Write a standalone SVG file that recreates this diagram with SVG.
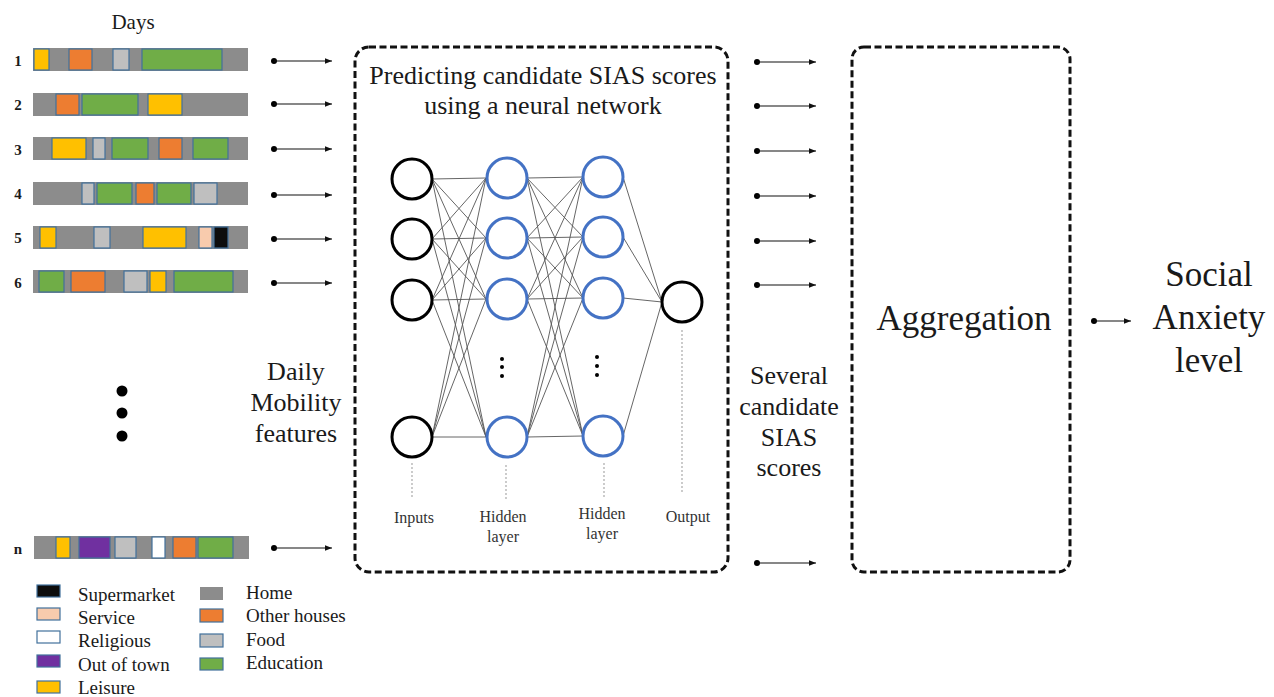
<svg xmlns="http://www.w3.org/2000/svg" width="1274" height="697" viewBox="0 0 1274 697" font-family="'Liberation Serif','Times New Roman',serif">
<defs>
<style>
text{font-family:"Liberation Serif","Times New Roman",serif;fill:#1a1a1a}
.num{font-size:15px;font-weight:bold;text-anchor:middle}
.leg{font-size:19px}
.big{font-size:26px;text-anchor:middle}
.huge{font-size:35px;text-anchor:middle}
.nnl{font-size:16px;text-anchor:middle;fill:#333}
.bar{fill:#8C8C8C}
.s{stroke:#41719C;stroke-width:1.2}
.y{fill:#FFC000}.o{fill:#ED7D31}.f{fill:#BFBFBF}.e{fill:#70AD47}.p{fill:#F8CBAD}.k{fill:#0D0D0D}.u{fill:#7030A0}.w{fill:#FFFFFF}
.box{fill:none;stroke:#111;stroke-width:3;stroke-dasharray:7 3.5}
.arr{stroke:#111;stroke-width:1.2;fill:none;marker-end:url(#ah)}
.dot{fill:#000}
.in{fill:none;stroke:#000;stroke-width:3}
.hid{fill:none;stroke:#4472C4;stroke-width:3}
.w1{stroke:#555;stroke-width:0.9;fill:none}
.dl{stroke:#aaa;stroke-width:1.2;stroke-dasharray:2 2;fill:none}
</style>
<marker id="ah" viewBox="0 0 10 10" refX="10" refY="5" markerWidth="7" markerHeight="7" markerUnits="userSpaceOnUse" orient="auto">
<path d="M0,1 L10,5 L0,9 z" fill="#111"/>
</marker>
</defs>
<rect width="1274" height="697" fill="#fff"/>

<g id="days">
<text x="133" y="29" style="font-size:21px;text-anchor:middle">Days</text>
<g id="day1">
<text class="num" x="18" y="66">1</text>
<rect class="bar" x="33" y="48" width="215" height="23"/>
<rect class="s y" x="34" y="49" width="15" height="21"/>
<rect class="s o" x="69" y="49" width="23" height="21"/>
<rect class="s f" x="113" y="49" width="16" height="21"/>
<rect class="s e" x="142" y="49" width="80" height="21"/>
</g>
<g id="day2">
<text class="num" x="18" y="110">2</text>
<rect class="bar" x="33" y="93" width="215" height="23"/>
<rect class="s o" x="56" y="94" width="23" height="21"/>
<rect class="s e" x="82" y="94" width="56" height="21"/>
<rect class="s y" x="148" y="94" width="34" height="21"/>
</g>
<g id="day3">
<text class="num" x="18" y="155">3</text>
<rect class="bar" x="33" y="137" width="215" height="23"/>
<rect class="s y" x="52" y="138" width="34" height="21"/>
<rect class="s f" x="93" y="138" width="12" height="21"/>
<rect class="s e" x="112" y="138" width="36" height="21"/>
<rect class="s o" x="159" y="138" width="23" height="21"/>
<rect class="s e" x="193" y="138" width="35" height="21"/>
</g>
<g id="day4">
<text class="num" x="18" y="199">4</text>
<rect class="bar" x="33" y="182" width="215" height="23"/>
<rect class="s f" x="82" y="183" width="12" height="21"/>
<rect class="s e" x="97" y="183" width="35" height="21"/>
<rect class="s o" x="136" y="183" width="18" height="21"/>
<rect class="s e" x="157" y="183" width="34" height="21"/>
<rect class="s f" x="194" y="183" width="23" height="21"/>
</g>
<g id="day5">
<text class="num" x="18" y="243">5</text>
<rect class="bar" x="33" y="226" width="215" height="23"/>
<rect class="s y" x="40" y="227" width="16" height="21"/>
<rect class="s f" x="94" y="227" width="16" height="21"/>
<rect class="s y" x="143" y="227" width="43" height="21"/>
<rect class="s p" x="199" y="227" width="13" height="21"/>
<rect class="s k" x="214" y="227" width="14" height="21"/>
</g>
<g id="day6">
<text class="num" x="18" y="288">6</text>
<rect class="bar" x="33" y="270" width="215" height="23"/>
<rect class="s e" x="39" y="271" width="25" height="21"/>
<rect class="s o" x="71" y="271" width="34" height="21"/>
<rect class="s f" x="124" y="271" width="23" height="21"/>
<rect class="s y" x="150" y="271" width="16" height="21"/>
<rect class="s e" x="174" y="271" width="59" height="21"/>
</g>
<g id="ellipsis">
<circle class="dot" cx="122" cy="391" r="5.5"/>
<circle class="dot" cx="122" cy="413" r="5.5"/>
<circle class="dot" cx="122" cy="436" r="5.5"/>
</g>
<g id="dayn">
<text class="num" x="18" y="554">n</text>
<rect class="bar" x="34" y="536" width="215" height="23"/>
<rect class="s y" x="56" y="537" width="14" height="21"/>
<rect class="s u" x="79" y="537" width="31" height="21"/>
<rect class="s f" x="115" y="537" width="21" height="21"/>
<rect class="s w" x="152" y="537" width="13" height="21"/>
<rect class="s o" x="173" y="537" width="23" height="21"/>
<rect class="s e" x="198" y="537" width="35" height="21"/>
</g>
</g>

<g id="legend">
<rect class="s k" x="37" y="585" width="23" height="12"/><text class="leg" x="78" y="601">Supermarket</text>
<rect class="s p" x="37" y="608" width="23" height="12"/><text class="leg" x="78" y="624">Service</text>
<rect class="s w" x="37" y="631" width="23" height="12"/><text class="leg" x="78" y="647">Religious</text>
<rect class="s u" x="37" y="655" width="23" height="12"/><text class="leg" x="78" y="671">Out of town</text>
<rect class="s y" x="37" y="681" width="23" height="12"/><text class="leg" x="78" y="694">Leisure</text>
<rect class="bar" x="200" y="587" width="23" height="13"/><text class="leg" x="246" y="599">Home</text>
<rect class="s o" x="200" y="609" width="23" height="13"/><text class="leg" x="246" y="622">Other houses</text>
<rect class="s f" x="200" y="634" width="23" height="13"/><text class="leg" x="246" y="646">Food</text>
<rect class="s e" x="200" y="658" width="23" height="12"/><text class="leg" x="246" y="669">Education</text>
</g>

<g id="features-label">
<text class="big" x="296" y="380">Daily</text>
<text class="big" x="296" y="411">Mobility</text>
<text class="big" x="296" y="442">features</text>
</g>

<g id="nn-box">
<rect class="box" x="355" y="47" width="373" height="525" rx="14"/>
<text class="big" x="543" y="84">Predicting candidate SIAS scores</text>
<text class="big" x="543" y="114">using a neural network</text>
</g>

<g id="nn-weights">
<path class="w1" d="M432,179L486,178M432,179L486,238M432,179L486,299M432,179L486,437M432,239L486,178M432,239L486,238M432,239L486,299M432,239L486,437M432,300L486,178M432,300L486,238M432,300L486,299M432,300L486,437M432,437L486,178M432,437L486,238M432,437L486,299M432,437L486,437"/>
<path class="w1" d="M527,178L583,177M527,178L583,237M527,178L583,298M527,178L583,436M527,238L583,177M527,238L583,237M527,238L583,298M527,238L583,436M527,299L583,177M527,299L583,237M527,299L583,298M527,299L583,436M527,437L583,177M527,437L583,237M527,437L583,298M527,437L583,436"/>
<path class="w1" d="M623,177L662,302M623,237L662,302M623,298L662,302M623,436L662,302"/>
</g>

<g id="nn-inputs">
<circle class="in" cx="412" cy="179" r="20"/>
<circle class="in" cx="412" cy="239" r="20"/>
<circle class="in" cx="412" cy="300" r="20"/>
<circle class="in" cx="412" cy="437" r="20"/>
<path class="dl" d="M412,463V498"/>
<text class="nnl" x="414" y="523">Inputs</text>
</g>
<g id="nn-hidden1">
<circle class="hid" cx="507" cy="178" r="20"/>
<circle class="hid" cx="507" cy="238" r="20"/>
<circle class="hid" cx="507" cy="299" r="20"/>
<circle class="hid" cx="507" cy="437" r="20"/>
<circle class="dot" cx="502" cy="359" r="2"/><circle class="dot" cx="502" cy="367" r="2"/><circle class="dot" cx="502" cy="376" r="2"/>
<path class="dl" d="M506,465V500"/>
<text class="nnl" x="503" y="522">Hidden</text>
<text class="nnl" x="503" y="542">layer</text>
</g>
<g id="nn-hidden2">
<circle class="hid" cx="603" cy="177" r="20"/>
<circle class="hid" cx="603" cy="237" r="20"/>
<circle class="hid" cx="603" cy="298" r="20"/>
<circle class="hid" cx="603" cy="436" r="20"/>
<circle class="dot" cx="597" cy="357" r="2"/><circle class="dot" cx="597" cy="366" r="2"/><circle class="dot" cx="597" cy="375" r="2"/>
<path class="dl" d="M604,463V498"/>
<text class="nnl" x="602" y="519">Hidden</text>
<text class="nnl" x="602" y="539">layer</text>
</g>
<g id="nn-output">
<circle class="in" cx="682" cy="302" r="20"/>
<path class="dl" d="M682,330V493"/>
<text class="nnl" x="688" y="522">Output</text>
</g>

<g id="scores-label">
<text class="big" x="789" y="384">Several</text>
<text class="big" x="789" y="415">candidate</text>
<text class="big" x="789" y="446">SIAS</text>
<text class="big" x="789" y="476">scores</text>
</g>

<g id="aggregation">
<rect class="box" x="852" y="47" width="218" height="525" rx="12"/>
<text class="huge" x="964" y="330">Aggregation</text>
</g>

<g id="result">
<text class="huge" x="1209" y="286">Social</text>
<text class="huge" x="1209" y="329">Anxiety</text>
<text class="huge" x="1209" y="372">level</text>
</g>

<g id="connectors">
<g id="in-arrows">
<circle class="dot" cx="274" cy="61" r="3"/><path class="arr" d="M274,61H332"/>
<circle class="dot" cx="274" cy="104" r="3"/><path class="arr" d="M274,104H332"/>
<circle class="dot" cx="274" cy="149" r="3"/><path class="arr" d="M274,149H332"/>
<circle class="dot" cx="274" cy="195" r="3"/><path class="arr" d="M274,195H332"/>
<circle class="dot" cx="274" cy="239" r="3"/><path class="arr" d="M274,239H332"/>
<circle class="dot" cx="274" cy="283" r="3"/><path class="arr" d="M274,283H332"/>
<circle class="dot" cx="274" cy="548" r="3"/><path class="arr" d="M274,548H332"/>
</g>
<g id="out-arrows">
<circle class="dot" cx="757" cy="62" r="3"/><path class="arr" d="M757,62H816"/>
<circle class="dot" cx="757" cy="106" r="3"/><path class="arr" d="M757,106H816"/>
<circle class="dot" cx="757" cy="151" r="3"/><path class="arr" d="M757,151H816"/>
<circle class="dot" cx="757" cy="196" r="3"/><path class="arr" d="M757,196H816"/>
<circle class="dot" cx="757" cy="241" r="3"/><path class="arr" d="M757,241H816"/>
<circle class="dot" cx="757" cy="285" r="3"/><path class="arr" d="M757,285H816"/>
<circle class="dot" cx="757" cy="563" r="3"/><path class="arr" d="M757,563H816"/>
</g>
<g id="final-arrow">
<circle class="dot" cx="1094" cy="321" r="3"/><path class="arr" d="M1094,321H1131"/>
</g>
</g>
</svg>
